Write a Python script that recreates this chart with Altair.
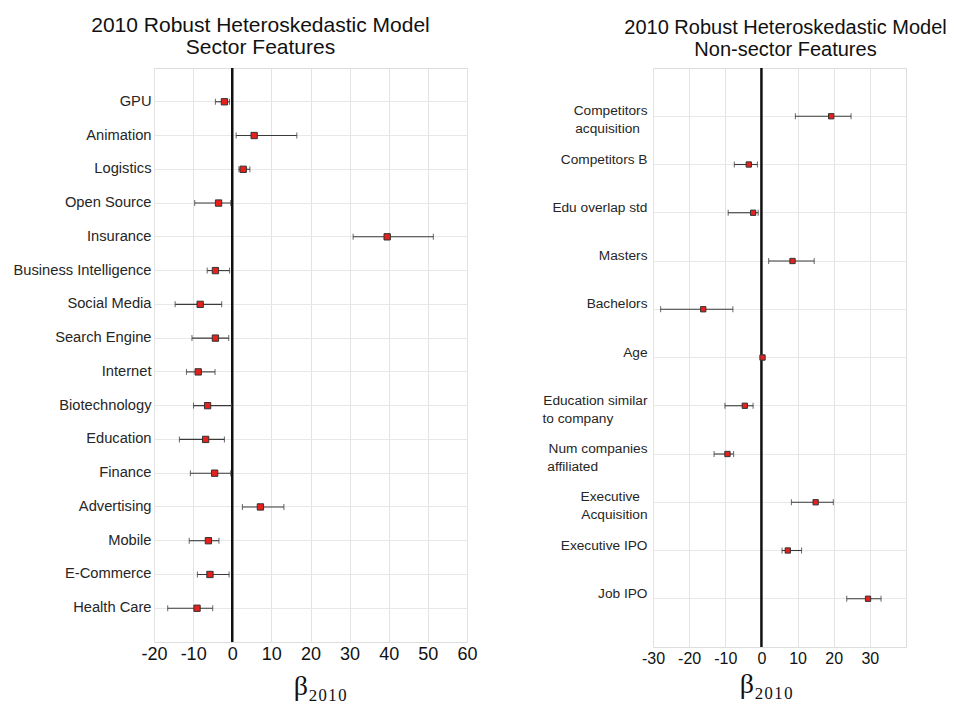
import altair as alt
import pandas as pd

NB = "\u00a0"
ZW = "\u200b"

# ---- Left panel: sector features ----
sector_cats = ["GPU", "Animation", "Logistics", "Open Source", "Insurance",
               "Business Intelligence", "Social Media", "Search Engine", "Internet",
               "Biotechnology", "Education", "Finance", "Advertising", "Mobile",
               "E-Commerce", "Health Care"]
sector_est = [-2.0, 5.6, 2.8, -3.5, 39.6, -4.3, -8.2, -4.3, -8.7, -6.3, -6.8, -4.5,
              7.2, -6.1, -5.7, -9.0]
sector_lo = [-4.3, 1.0, 1.7, -9.6, 30.9, -6.4, -14.6, -10.3, -11.7, -9.9, -13.5, -10.7,
             2.6, -11.0, -8.9, -16.5]
sector_hi = [-0.7, 16.5, 4.5, -0.4, 51.4, -0.7, -2.7, -0.9, -4.4, -0.2, -2.0, -0.4,
             13.2, -3.4, -0.8, -5.0]
sector_ticks = [-20, -10, 0, 10, 20, 30, 40, 50, 60]

# ---- Right panel: non-sector features ----
other_cats = ["Competitors\nacquisition" + NB * 2 + ZW,
              "Competitors B", "Edu overlap std", "Masters", "Bachelors", "Age",
              "Education similar\nto company" + NB * 9 + ZW,
              "Num companies\naffiliated" + NB * 13 + ZW,
              "Executive" + NB * 2 + ZW + "\nAcquisition",
              "Executive IPO", "Job IPO"]
other_est = [19.3, -3.5, -2.3, 8.6, -16.1, 0.3, -4.6, -9.4, 15.0, 7.3, 29.5]
other_lo = [9.4, -7.5, -9.2, 2.0, -27.9, 0.0, -10.1, -13.1, 8.3, 5.7, 23.6]
other_hi = [24.8, -1.1, -0.9, 14.6, -7.9, 0.6, -2.3, -7.7, 19.9, 11.1, 33.1]
other_ticks = [-30, -20, -10, 0, 10, 20, 30]

RED = "#e5201d"
BAR = "#3a3a3a"
FONT = "Liberation Sans"


def panel(cats, est, lo, hi, domain, ticks, title_lines, title_size, title_dx,
          title_offset, label_size, tick_size, sq_size, width, height, ypad,
          beta_size, beta_pad, beta_x, y_axis_extra):
    df = pd.DataFrame({"cat": cats, "est": est, "lo": lo, "hi": hi})
    xscale = alt.Scale(domain=domain, nice=False, zero=False)
    xaxis = alt.Axis(values=ticks, labelExpr="datum.value", title="β₂₀₁₀",
                     titleFont="Liberation Serif", titleFontSize=beta_size,
                     titleFontWeight="normal", titleColor="#111",
                     titlePadding=beta_pad, titleX=beta_x,
                     labelFont=FONT, labelFontSize=tick_size,
                     labelColor="#111", labelPadding=3, ticks=False, domain=False,
                     grid=True, gridColor="#e3e3e3", labelFlush=False)
    yaxis = alt.Axis(title=None, labelFont=FONT, labelFontSize=label_size,
                     labelColor="#262626", ticks=False, domain=False, grid=True,
                     gridColor="#e8e8e8", labelLimit=300, **y_axis_extra)
    y = alt.Y("cat:N", sort=cats, scale=alt.Scale(padding=ypad), axis=yaxis)
    base = alt.Chart(df)
    rule = base.mark_rule(color=BAR, strokeWidth=1.1).encode(
        x=alt.X("lo:Q", scale=xscale, axis=xaxis), x2="hi:Q", y=y)
    cap_lo = base.mark_tick(color=BAR, size=6, thickness=1.1).encode(
        x=alt.X("lo:Q", scale=xscale, axis=xaxis), y=y)
    cap_hi = base.mark_tick(color=BAR, size=6, thickness=1.1).encode(
        x=alt.X("hi:Q", scale=xscale, axis=xaxis), y=y)
    zero = alt.Chart(pd.DataFrame({"z": [0]})).mark_rule(
        color="#111", strokeWidth=2.5).encode(x=alt.X("z:Q", scale=xscale, axis=xaxis))
    pts = base.mark_square(size=sq_size, color=RED, fill=RED, stroke="#333",
                           strokeWidth=1, opacity=1).encode(
        x=alt.X("est:Q", scale=xscale, axis=xaxis), y=y)
    return alt.layer(zero, rule, cap_lo, cap_hi, pts).properties(
        width=width, height=height,
        title=alt.TitleParams(text=title_lines, font=FONT, fontSize=title_size,
                              fontWeight="normal", color="#111", anchor="middle",
                              dx=title_dx, offset=title_offset, lineHeight=22))


left = panel(sector_cats, sector_est, sector_lo, sector_hi, [-20, 60], sector_ticks,
             ["2010 Robust Heteroskedastic Model", "Sector Features"], 21, -50, 9,
             14.7, 18, 40, 313, 574, 1.0, 28, 9, 166, {"labelPadding": 3})
right = panel(other_cats, other_est, other_lo, other_hi, [-30, 40], other_ticks,
              ["2010 Robust Heteroskedastic Model", "Non-sector Features"], 20, 6, 7,
              13.7, 16, 28, 253, 579, 1.056, 28, 4, 113,
              {"labelPadding": 6, "labelExpr": "split(datum.label, '\\n')",
               "labelBaseline": "top", "labelOffset": -12, "labelLineHeight": 18})

chart = alt.hconcat(left, right, spacing=63).properties(
    padding={"left": 4, "top": 6, "right": 0, "bottom": 0}
).configure_view(stroke="#555", strokeWidth=1).configure(background="white")

chart.save("out.html", embed_options={"renderer": "svg", "actions": False})
